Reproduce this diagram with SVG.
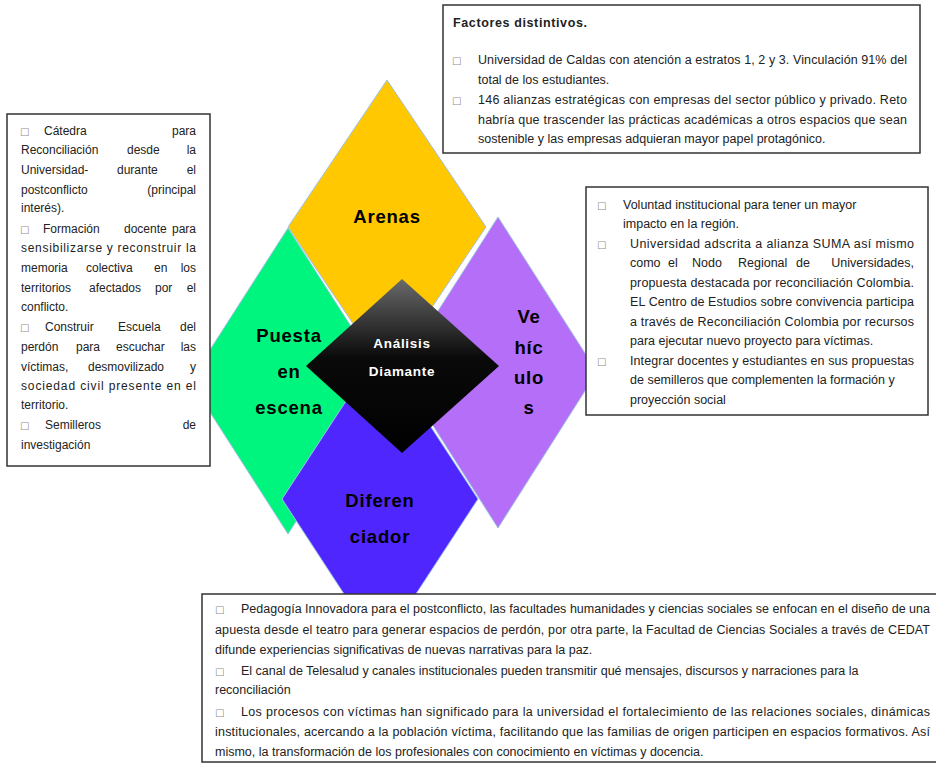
<svg xmlns="http://www.w3.org/2000/svg" width="936" height="765" viewBox="0 0 936 765">
<defs>
<linearGradient id="gBlack" x1="0" y1="0" x2="0" y2="1">
<stop offset="0" stop-color="#6a6a6a"/>
<stop offset="0.45" stop-color="#0a0a0a"/>
<stop offset="1" stop-color="#000"/>
</linearGradient>
<style>
.t{font-family:"Liberation Sans",Arial,sans-serif;font-size:12.5px;fill:#222}
.tl{font-family:"Liberation Sans",Arial,sans-serif;font-size:12px;fill:#222}
.e{text-anchor:end}
.bu{font-family:"DejaVu Sans",sans-serif;font-size:10px;fill:#8c8c8c}
.box{fill:#fff;stroke:#333;stroke-width:1.5}
.dia{stroke:#9cc2e5;stroke-width:1}
.lbl{font-family:"Liberation Sans",Arial,sans-serif;font-weight:bold;font-size:18.5px;letter-spacing:0.8px;text-anchor:middle;fill:#000}
.wl{font-family:"Liberation Sans",Arial,sans-serif;font-weight:bold;font-size:13.5px;letter-spacing:0.7px;text-anchor:middle;fill:#fff}
</style>
</defs>
<rect width="936" height="765" fill="#fff"/>

<g id="arenas">
<polygon class="dia" points="387,80 486,227 387,374 288,227" fill="#FFC800"/>
</g>
<g id="puesta-en-escena">
<polygon class="dia" points="288,228 386,381 288,534 190,381" fill="#00F57F"/>
</g>
<g id="vehiculos">
<polygon class="dia" points="498,217 597,372 498,528 399,372" fill="#B46EF7"/>
</g>
<g id="diferenciador">
<polygon class="dia" points="380,349 478,499 380,649 282,499" fill="#5026FF"/>
</g>
<g id="analisis-diamante">
<polygon points="402,279 499,366 402,453 306,366" fill="url(#gBlack)"/>
<text class="wl" x="402" y="348">Análisis</text>
<text class="wl" x="402" y="376">Diamante</text>
</g>
<g id="labels">
<text class="lbl" x="387" y="223">Arenas</text>
<text class="lbl" x="289" y="342">Puesta</text>
<text class="lbl" x="289" y="378">en</text>
<text class="lbl" x="289" y="414">escena</text>
<text class="lbl" x="529" y="323">Ve</text>
<text class="lbl" x="529" y="354">híc</text>
<text class="lbl" x="529" y="384">ulo</text>
<text class="lbl" x="529" y="414">s</text>
<text class="lbl" x="380" y="507">Diferen</text>
<text class="lbl" x="380" y="543">ciador</text>
</g>

<g id="connectors"/>

<g id="factores-distintivos">
<rect class="box" x="443" y="5" width="477" height="148"/>
<text class="t" x="453" y="27" font-weight="bold" font-size="13" textLength="134" lengthAdjust="spacing">Factores distintivos.</text>
<text class="bu" x="452" y="64">□</text>
<text class="t" x="478" y="64" textLength="429" lengthAdjust="spacing">Universidad de Caldas con atención a estratos 1, 2 y 3. Vinculación 91% del</text>
<text class="t" x="478" y="84">total de los estudiantes.</text>
<text class="bu" x="452" y="104">□</text>
<text class="t" x="478" y="104" textLength="429" lengthAdjust="spacing">146 alianzas estratégicas con empresas del sector público y privado. Reto</text>
<text class="t" x="478" y="124" textLength="429" lengthAdjust="spacing">habría que trascender las prácticas académicas a otros espacios que sean</text>
<text class="t" x="478" y="143">sostenible y las empresas adquieran mayor papel protagónico.</text>
</g>

<g id="puesta-en-escena-box">
<rect class="box" x="7" y="114" width="203" height="352"/>
<text class="bu" x="20" y="135">□</text>
<text class="tl" x="44" y="135">Cátedra</text>
<text class="tl e" x="196" y="135">para</text>
<text class="tl" x="21" y="154">Reconciliación</text>
<text class="tl" x="127" y="154">desde</text>
<text class="tl e" x="196" y="154">la</text>
<text class="tl" x="21" y="174">Universidad-</text>
<text class="tl" x="117" y="174">durante</text>
<text class="tl e" x="196" y="174">el</text>
<text class="tl" x="21" y="194">postconflicto</text>
<text class="tl e" x="196" y="194">(principal</text>
<text class="tl" x="21" y="212">interés).</text>
<text class="bu" x="20" y="233">□</text>
<text class="tl" x="43" y="233">Formación</text>
<text class="tl" x="124" y="233">docente</text>
<text class="tl e" x="196" y="233">para</text>
<text class="tl" x="21" y="252" textLength="175" lengthAdjust="spacing">sensibilizarse y reconstruir la</text>
<text class="tl" x="21" y="272">memoria</text>
<text class="tl" x="86" y="272">colectiva</text>
<text class="tl" x="154" y="272">en</text>
<text class="tl e" x="196" y="272">los</text>
<text class="tl" x="21" y="292">territorios</text>
<text class="tl" x="89" y="292">afectados</text>
<text class="tl" x="155" y="292">por</text>
<text class="tl e" x="196" y="292">el</text>
<text class="tl" x="21" y="311">conflicto.</text>
<text class="bu" x="20" y="331">□</text>
<text class="tl" x="45" y="331">Construir</text>
<text class="tl" x="118" y="331">Escuela</text>
<text class="tl e" x="196" y="331">del</text>
<text class="tl" x="21" y="351">perdón</text>
<text class="tl" x="76" y="351">para</text>
<text class="tl" x="116" y="351">escuchar</text>
<text class="tl e" x="196" y="351">las</text>
<text class="tl" x="21" y="371">víctimas,</text>
<text class="tl" x="88" y="371">desmovilizado</text>
<text class="tl e" x="196" y="371">y</text>
<text class="tl" x="21" y="390" textLength="175" lengthAdjust="spacing">sociedad civil presente en el</text>
<text class="tl" x="21" y="409">territorio.</text>
<text class="bu" x="20" y="429">□</text>
<text class="tl" x="45" y="429">Semilleros</text>
<text class="tl e" x="196" y="429">de</text>
<text class="tl" x="21" y="449">investigación</text>
</g>

<g id="vehiculos-box">
<rect class="box" x="586" y="187" width="342" height="228"/>
<text class="bu" x="597" y="209">□</text>
<text class="t" x="623" y="209">Voluntad institucional para tener un mayor</text>
<text class="t" x="623" y="228">impacto en la región.</text>
<text class="bu" x="597" y="248">□</text>
<text class="t" x="630" y="248" textLength="284" lengthAdjust="spacing">Universidad adscrita a alianza SUMA así mismo</text>
<text class="t" x="630" y="267">como</text>
<text class="t" x="668" y="267">el</text>
<text class="t" x="692" y="267">Nodo</text>
<text class="t" x="738" y="267">Regional</text>
<text class="t" x="796" y="267">de</text>
<text class="t e" x="914" y="267">Universidades,</text>
<text class="t" x="630" y="287" textLength="284" lengthAdjust="spacing">propuesta destacada por reconciliación Colombia.</text>
<text class="t" x="630" y="306" textLength="284" lengthAdjust="spacing">EL Centro de Estudios sobre convivencia participa</text>
<text class="t" x="630" y="326" textLength="284" lengthAdjust="spacing">a través de Reconciliación Colombia por recursos</text>
<text class="t" x="630" y="345">para ejecutar nuevo proyecto para víctimas.</text>
<text class="bu" x="597" y="365">□</text>
<text class="t" x="630" y="365" textLength="284" lengthAdjust="spacing">Integrar docentes y estudiantes en sus propuestas</text>
<text class="t" x="630" y="384">de semilleros que complementen la formación y</text>
<text class="t" x="630" y="404">proyección social</text>
</g>

<g id="diferenciador-box">
<rect class="box" x="202" y="594" width="740" height="168"/>
<text class="bu" x="215" y="613">□</text>
<text class="t" x="241" y="613" textLength="689" lengthAdjust="spacing">Pedagogía Innovadora para el postconflicto, las facultades humanidades y ciencias sociales se enfocan en el diseño de una</text>
<text class="t" x="215" y="634" textLength="715" lengthAdjust="spacing">apuesta desde el teatro para generar espacios de perdón, por otra parte, la Facultad de Ciencias Sociales a través de CEDAT</text>
<text class="t" x="215" y="654">difunde experiencias significativas de nuevas narrativas para la paz.</text>
<text class="bu" x="215" y="675">□</text>
<text class="t" x="241" y="675">El canal de Telesalud y canales institucionales pueden transmitir qué mensajes, discursos y narraciones para la</text>
<text class="t" x="215" y="694">reconciliación</text>
<text class="bu" x="215" y="716">□</text>
<text class="t" x="241" y="716" textLength="689" lengthAdjust="spacing">Los procesos con víctimas han significado para la universidad el fortalecimiento de las relaciones sociales, dinámicas</text>
<text class="t" x="215" y="736" textLength="715" lengthAdjust="spacing">institucionales, acercando a la población víctima, facilitando que las familias de origen participen en espacios formativos. Así</text>
<text class="t" x="215" y="756">mismo, la transformación de los profesionales con conocimiento en víctimas y docencia.</text>
</g>
</svg>
